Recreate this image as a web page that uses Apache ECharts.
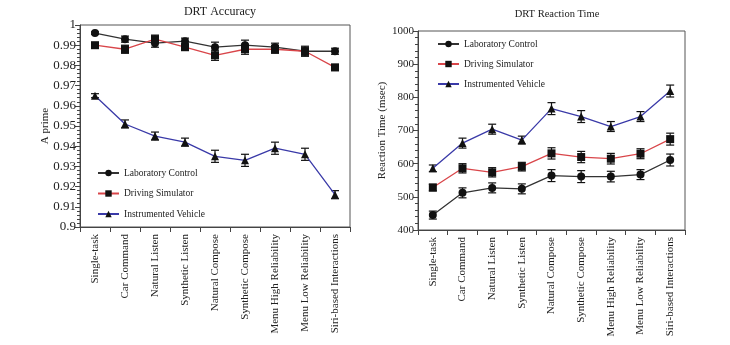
<!DOCTYPE html>
<html>
<head>
<meta charset="utf-8">
<script src="https://cdn.jsdelivr.net/npm/echarts@6/dist/echarts.min.js"></script>
<style>
html,body{margin:0;padding:0;background:#fff;}
#chart{width:730px;height:345px;}
</style>
</head>
<body>
<div id="chart"></div>
<script>
const categories = ['Single-task','Car Command','Natural Listen','Synthetic Listen','Natural Compose','Synthetic Compose','Menu High Reliability','Menu Low Reliability','Siri-based Interactions'];
const seriesNames = ['Laboratory Control','Driving Simulator','Instrumented Vehicle'];

// DRT Accuracy (A prime)
const accLab = [0.996,0.993,0.991,0.992,0.989,0.990,0.989,0.987,0.987];
const accSim = [0.990,0.988,0.993,0.989,0.985,0.988,0.988,0.987,0.979];
const accVeh = [0.965,0.951,0.945,0.942,0.935,0.933,0.939,0.936,0.916];
const accLabErr = [0.0006,0.0015,0.002,0.0015,0.0025,0.0025,0.002,0.002,0.0015];
const accSimErr = [0.0008,0.002,0.002,0.0015,0.0025,0.0025,0.002,0.0025,0.0015];
const accVehErr = [0.001,0.002,0.002,0.002,0.003,0.003,0.003,0.003,0.002];

// DRT Reaction Time (msec)
const rtLab = [445,512,527,524,564,561,561,567,611];
const rtSim = [528,586,574,591,631,620,615,630,674];
const rtVeh = [586,662,704,671,766,742,712,742,819];
const rtLabErr = [12,15,15,15,18,18,16,15,18];
const rtSimErr = [10,14,14,13,17,17,16,15,18];
const rtVehErr = [10,15,15,12,18,18,15,15,18];

const accTicks = {min:0.9, max:1, interval:0.01};
const rtTicks = {min:400, max:1000, interval:100};

const FONT = 'Liberation Serif';
const lineColors = ['#333333','#d9464a','#3a3aa8'];
const symbols = ['circle','rect','triangle'];
const symbolSizes = [8,8,8];

function errSeries(vals, errs, gi) {
  return {
    type:'custom', xAxisIndex:gi, yAxisIndex:gi, z:3, silent:true,
    data: vals.map((v,i)=>[i, v-errs[i], v+errs[i]]),
    renderItem: function(params, api){
      const lo = api.coord([api.value(0), api.value(1)]);
      const hi = api.coord([api.value(0), api.value(2)]);
      const w = 4;
      const st = {stroke:'#111', lineWidth:1.2};
      return {type:'group', children:[
        {type:'line', shape:{x1:lo[0],y1:lo[1],x2:hi[0],y2:hi[1]}, style:st},
        {type:'line', shape:{x1:lo[0]-w,y1:lo[1],x2:lo[0]+w,y2:lo[1]}, style:st},
        {type:'line', shape:{x1:hi[0]-w,y1:hi[1],x2:hi[0]+w,y2:hi[1]}, style:st}
      ]};
    }
  };
}
function lineSeries(name, vals, k, gi) {
  return {
    name:name, type:'line', xAxisIndex:gi, yAxisIndex:gi, data:vals, z:4,
    symbol:symbols[k], symbolSize:symbolSizes[k], showAllSymbol:true,
    itemStyle:{color:'#111'}, lineStyle:{color:lineColors[k], width:1.3},
    emphasis:{disabled:true}
  };
}
function xAxis(gi){
  return {
    type:'category', gridIndex:gi, data:categories, boundaryGap:true,
    axisLine:{lineStyle:{color:'#444', width:1}},
    axisTick:{show:true, length:5, lineStyle:{color:'#444'}},
    axisLabel:{rotate:90, fontFamily:FONT, fontSize:11, color:'#222', margin:7, interval:0}
  };
}
function yAxis(gi, t, name, gap, fs){
  return {
    type:'value', gridIndex:gi, min:t.min, max:t.max, interval:t.interval,
    name:name, nameLocation:'middle', nameGap:gap, nameMoveOverlap:false,
    nameTextStyle:{fontFamily:FONT, fontSize:11, color:'#222'},
    axisLine:{show:true, lineStyle:{color:'#444', width:1}},
    axisTick:{show:true, length:5, lineStyle:{color:'#444'}},
    minorTick:{show:true, splitNumber:5, length:3, lineStyle:{color:'#444'}},
    splitLine:{show:false},
    axisLabel:{fontFamily:FONT, fontSize:fs, color:'#222', margin:4,
      formatter: v => String(+v.toFixed(2))}
  };
}
function legend(left, top, fs, gap){
  return {
    data:seriesNames, orient:'vertical', left:left, top:top,
    itemWidth:21, itemHeight:8, itemGap:gap, selectedMode:false,
    textStyle:{fontFamily:FONT, fontSize:fs, color:'#222'}
  };
}

const chart = echarts.init(document.getElementById('chart'), null, {renderer:'canvas'});
chart.setOption({
  animation:false,
  backgroundColor:'#fff',
  title:[
    {text:'DRT Accuracy', left:215, top:1, textAlign:'center',
      textStyle:{fontFamily:FONT, fontSize:12, fontWeight:'normal', color:'#222'}},
    {text:'DRT Reaction Time', left:552, top:4, textAlign:'center',
      textStyle:{fontFamily:FONT, fontSize:10.5, fontWeight:'normal', color:'#222'}}
  ],
  legend:[legend(92,163,9.5,10.5), legend(432,34,9.5,10)],
  grid:[
    {left:80, top:25, width:270, height:202, show:true, borderColor:'#555', borderWidth:1, backgroundColor:'transparent'},
    {left:418, top:31, width:267, height:199, show:true, borderColor:'#555', borderWidth:1, backgroundColor:'transparent'}
  ],
  xAxis:[xAxis(0), xAxis(1)],
  yAxis:[yAxis(0, accTicks, 'A prime', 29, 13), yAxis(1, rtTicks, 'Reaction Time (msec)', 30, 11)],
  series:[
    errSeries(accLab, accLabErr, 0),
    errSeries(accSim, accSimErr, 0),
    errSeries(accVeh, accVehErr, 0),
    lineSeries(seriesNames[0], accLab, 0, 0),
    lineSeries(seriesNames[1], accSim, 1, 0),
    lineSeries(seriesNames[2], accVeh, 2, 0),
    errSeries(rtLab, rtLabErr, 1),
    errSeries(rtSim, rtSimErr, 1),
    errSeries(rtVeh, rtVehErr, 1),
    lineSeries(seriesNames[0], rtLab, 0, 1),
    lineSeries(seriesNames[1], rtSim, 1, 1),
    lineSeries(seriesNames[2], rtVeh, 2, 1)
  ]
});
</script>
</body>
</html>
